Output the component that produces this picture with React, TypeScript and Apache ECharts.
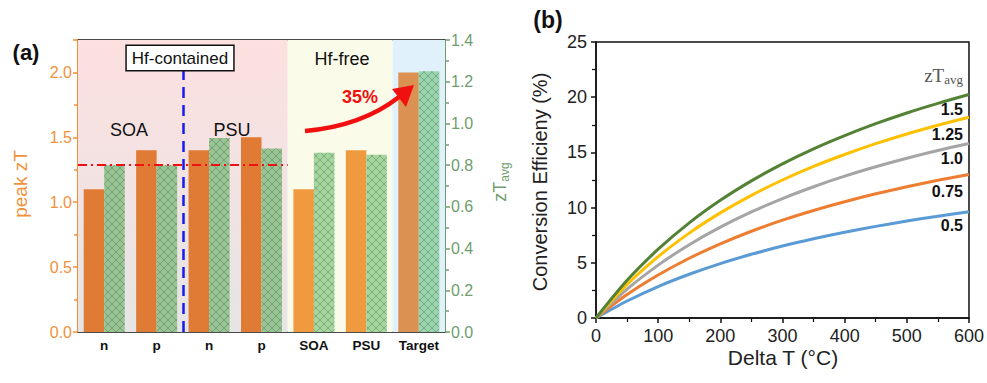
import React, { useEffect, useRef } from 'react';
import * as echarts from 'echarts';

// ---------- Panel (a) data ----------
const categories = ['n', 'p', 'n', 'p', 'SOA', 'PSU', 'Target'];
const peakZT = [1.1, 1.4, 1.4, 1.5, 1.1, 1.4, 2.0];
const avgZT = [0.8, 0.8, 0.93, 0.88, 0.86, 0.85, 1.25];
const peakColors = ['#e07b36', '#e07b36', '#e07b36', '#e07b36', '#ef9a3e', '#ef9a3e', '#da9152'];
const avgColors = ['#97c593', '#97c593', '#97c593', '#97c593', '#a3d79e', '#a3d79e', '#99d6ae'];
const bandStarts = [0, 4, 6];
const bandEnds = [4, 6, 7];
const refLineValue = 1.29;
const dividerAt = 2;
const dividerTop = 2.02;

// ---------- Panel (b) data ----------
const deltaT = [0, 50, 100, 150, 200, 250, 300, 350, 400, 450, 500, 550, 600];
const zTLevels = ['0.5', '0.75', '1.0', '1.25', '1.5'];
const eff05 = [0, 1.54, 2.85, 3.96, 4.93, 5.77, 6.52, 7.18, 7.77, 8.3, 8.78, 9.22, 9.62];
const eff075 = [0, 2.12, 3.89, 5.41, 6.72, 7.86, 8.86, 9.74, 10.53, 11.25, 11.89, 12.47, 13.0];
const eff10 = [0, 2.61, 4.79, 6.64, 8.23, 9.61, 10.82, 11.89, 12.85, 13.7, 14.47, 15.17, 15.8];
const eff125 = [0, 3.03, 5.56, 7.69, 9.52, 11.11, 12.5, 13.73, 14.81, 15.79, 16.67, 17.46, 18.18];
const eff15 = [0, 3.41, 6.23, 8.62, 10.66, 12.42, 13.96, 15.32, 16.52, 17.6, 18.57, 19.44, 20.24];
const effSeries = [eff05, eff075, eff10, eff125, eff15];
const lineColors = ['#5b9bd5', '#ed7d31', '#a5a5a5', '#ffc000', '#548235'];
const labelYs = [225, 191, 158, 134, 109];

const FONT = 'Liberation Sans, Arial, sans-serif';
const ORANGE = '#f0913a';
const GREEN = '#6e9d6e';
const BAR_W = 20.5;
const HATCH_STEP = 8;

// diagonal cross-hatch segments clipped to a rectangle
function hatchSegments(x0: number, x1: number, y0: number, y1: number, step: number) {
  const segs: number[][] = [];
  const cMin = Math.floor((y0 - x1) / step) * step;
  for (let c = cMin; c <= y1 - x0; c += step) {
    const xa = Math.max(x0, y0 - c);
    const xb = Math.min(x1, y1 - c);
    if (xb > xa) segs.push([xa, xa + c, xb, xb + c]);
  }
  const dMin = Math.floor((x0 + y0) / step) * step;
  for (let c = dMin; c <= x1 + y1; c += step) {
    const xa = Math.max(x0, c - y1);
    const xb = Math.min(x1, c - y0);
    if (xb > xa) segs.push([xa, c - xa, xb, c - xb]);
  }
  return segs;
}

export default function App() {
  const ref = useRef<HTMLDivElement>(null);
  useEffect(() => {
    if (!ref.current) return;
    const chart = echarts.init(ref.current, null, { renderer: 'svg' });

    const bandColors: any[] = [
      {
        type: 'linear', x: 0, y: 0, x2: 0, y2: 1,
        colorStops: [
          { offset: 0, color: '#fde0e0' },
          { offset: 1, color: '#e6e5e5' },
        ],
      },
      '#fafbe8',
      '#e1f1fb',
    ];

    const option: any = {
      animation: false,
      textStyle: { fontFamily: FONT },
      grid: [
        { left: 78, top: 40, width: 367, height: 292 },
        { left: 596, top: 42, width: 373, height: 276, show: true, borderColor: '#111', borderWidth: 1.5, backgroundColor: 'transparent' },
      ],
      xAxis: [
        {
          type: 'category', gridIndex: 0, data: categories, position: 'bottom',
          axisLine: { lineStyle: { color: '#111', width: 1.5 } },
          axisTick: { alignWithLabel: true, interval: 0, length: 4, lineStyle: { color: '#111', width: 1.5 } },
          axisLabel: { interval: 0, color: '#111', fontWeight: 'bold', fontSize: 13.5, margin: 6, fontFamily: FONT },
        },
        {
          type: 'value', gridIndex: 0, min: 0, max: 7, position: 'top',
          axisLine: { show: true, onZero: false, lineStyle: { color: '#111', width: 1.5 } },
          axisTick: { show: false }, axisLabel: { show: false }, splitLine: { show: false },
        },
        {
          type: 'value', gridIndex: 1, min: 0, max: 600, interval: 100,
          axisLine: { lineStyle: { color: '#111', width: 1.5 } },
          axisTick: { length: 5, lineStyle: { color: '#111', width: 1.5 } },
          minorTick: { show: true, splitNumber: 2, length: 4, lineStyle: { color: '#111', width: 1.2 } },
          axisLabel: { color: '#222', fontSize: 18, margin: 9, fontFamily: FONT },
          splitLine: { show: false },
        },
      ],
      yAxis: [
        {
          type: 'value', gridIndex: 0, min: 0, max: 2.25, interval: 0.5, position: 'left',
          axisLine: { show: true, lineStyle: { color: ORANGE, width: 2 } },
          axisTick: { show: true, length: 5, lineStyle: { color: ORANGE, width: 1.5 } },
          minorTick: { show: true, splitNumber: 2, length: 4, lineStyle: { color: ORANGE, width: 1.5 } },
          axisLabel: { color: ORANGE, fontSize: 16, margin: 6, showMaxLabel: false, formatter: (v: number) => v.toFixed(1), fontFamily: FONT },
          splitLine: { show: false },
        },
        {
          type: 'value', gridIndex: 0, min: 0, max: 1.4, interval: 0.2, position: 'right',
          axisLine: { show: true, lineStyle: { color: GREEN, width: 2 } },
          axisTick: { show: true, length: 5, lineStyle: { color: GREEN, width: 1.5 } },
          minorTick: { show: true, splitNumber: 2, length: 4, lineStyle: { color: GREEN, width: 1.5 } },
          axisLabel: { color: GREEN, fontSize: 16, margin: 6, formatter: (v: number) => v.toFixed(1), fontFamily: FONT },
          splitLine: { show: false },
        },
        {
          type: 'value', gridIndex: 1, min: 0, max: 25, interval: 5,
          axisLine: { lineStyle: { color: '#111', width: 1.5 } },
          axisTick: { length: 5, lineStyle: { color: '#111', width: 1.5 } },
          minorTick: { show: true, splitNumber: 2, length: 4, lineStyle: { color: '#111', width: 1.2 } },
          axisLabel: { color: '#222', fontSize: 18, margin: 9, fontFamily: FONT },
          splitLine: { show: false },
        },
      ],
      series: [
        {
          type: 'line', xAxisIndex: 1, yAxisIndex: 0, data: [], z: 0, silent: true,
          markArea: {
            silent: true,
            data: bandStarts.map((s, i) => [
              { xAxis: s, itemStyle: { color: bandColors[i] } },
              { xAxis: bandEnds[i] },
            ]),
          },
        },
        {
          type: 'bar', xAxisIndex: 0, yAxisIndex: 0, barWidth: BAR_W, barGap: '0%', z: 2,
          data: peakZT.map((v, i) => ({ value: v, itemStyle: { color: peakColors[i] } })),
        },
        {
          type: 'bar', xAxisIndex: 0, yAxisIndex: 1, barWidth: BAR_W, barGap: '0%', z: 2,
          data: avgZT.map((v, i) => ({ value: v, itemStyle: { color: avgColors[i] } })),
        },
        {
          type: 'custom', xAxisIndex: 0, yAxisIndex: 1, z: 3, silent: true,
          data: avgZT.map((v, i) => [i, v]),
          encode: { x: 0, y: 1 },
          renderItem: (params: any, api: any) => {
            const i = api.value(0);
            const v = api.value(1);
            const top = api.coord([i, v]);
            const base = api.coord([i, 0]);
            const segs = hatchSegments(top[0], top[0] + BAR_W, top[1], base[1], HATCH_STEP);
            return {
              type: 'group',
              children: segs.map((s) => ({
                type: 'line',
                shape: { x1: s[0], y1: s[1], x2: s[2], y2: s[3] },
                style: { stroke: 'rgba(70,90,72,0.45)', lineWidth: 0.8 },
              })),
            };
          },
        },
        {
          type: 'line', xAxisIndex: 1, yAxisIndex: 0, data: [], z: 6, silent: true,
          markLine: {
            silent: true, symbol: ['none', 'none'], label: { show: false },
            data: [
              [
                { coord: [bandStarts[0], refLineValue], lineStyle: { color: '#ee1111', width: 2, type: [9, 4, 2, 4] } },
                { coord: [bandEnds[0], refLineValue] },
              ],
              [
                { coord: [dividerAt, 0], lineStyle: { color: '#1a1aee', width: 2.5, type: [11, 7] } },
                { coord: [dividerAt, dividerTop] },
              ],
            ],
          },
        },
        ...effSeries.map((arr, i) => ({
          type: 'line', name: zTLevels[i], xAxisIndex: 2, yAxisIndex: 2,
          data: deltaT.map((x, j) => [x, arr[j]]),
          smooth: 0.3, showSymbol: false, symbol: 'none',
          lineStyle: { color: lineColors[i], width: 3 },
          itemStyle: { color: lineColors[i] },
          z: 3,
        })),
      ],
      graphic: [
        { type: 'text', x: 26, y: 52, style: { text: '(a)', font: `bold 22px ${FONT}`, fill: '#111', align: 'center', verticalAlign: 'middle' } },
        {
          type: 'text', x: 180, y: 58, z: 10,
          style: {
            text: 'Hf-contained', font: `17px ${FONT}`, fill: '#111', align: 'center', verticalAlign: 'middle',
            backgroundColor: '#fff', borderColor: '#111', borderWidth: 1.5, padding: [4, 5, 3, 5],
          },
        },
        { type: 'text', x: 342, y: 59, z: 10, style: { text: 'Hf-free', font: `18px ${FONT}`, fill: '#111', align: 'center', verticalAlign: 'middle' } },
        { type: 'text', x: 129, y: 130, z: 10, style: { text: 'SOA', font: `18px ${FONT}`, fill: '#111', align: 'center', verticalAlign: 'middle' } },
        { type: 'text', x: 232, y: 130, z: 10, style: { text: 'PSU', font: `18px ${FONT}`, fill: '#111', align: 'center', verticalAlign: 'middle' } },
        { type: 'text', x: 360, y: 97, z: 10, style: { text: '35%', font: `bold 18px ${FONT}`, fill: '#f01010', align: 'center', verticalAlign: 'middle' } },
        {
          type: 'bezierCurve', z: 10,
          shape: { x1: 305, y1: 131, x2: 399, y2: 97, cpx1: 362, cpy1: 126 },
          style: { stroke: '#f01010', lineWidth: 4.5, fill: null },
        },
        { type: 'polygon', z: 10, shape: { points: [[414, 85], [392, 89], [406, 107]] }, style: { fill: '#f01010' } },
        { type: 'text', x: 20, y: 184, rotation: Math.PI / 2, style: { text: 'peak zT', font: `19px ${FONT}`, fill: ORANGE, align: 'center', verticalAlign: 'middle' } },
        {
          type: 'text', x: 500, y: 182, rotation: Math.PI / 2,
          style: {
            text: '{a|zT}{b|avg}', align: 'center', verticalAlign: 'middle',
            rich: {
              a: { fontSize: 18, fill: GREEN, fontFamily: FONT },
              b: { fontSize: 12, fill: GREEN, fontFamily: FONT, padding: [9, 0, 0, 0] },
            },
          },
        },
        { type: 'text', x: 548, y: 20, style: { text: '(b)', font: `bold 23px ${FONT}`, fill: '#111', align: 'center', verticalAlign: 'middle' } },
        { type: 'text', x: 540, y: 182, rotation: Math.PI / 2, style: { text: 'Conversion Efficieny (%)', font: `20px ${FONT}`, fill: '#222', align: 'center', verticalAlign: 'middle' } },
        { type: 'text', x: 783, y: 357, style: { text: 'Delta T (°C)', font: `21px ${FONT}`, fill: '#222', align: 'center', verticalAlign: 'middle' } },
        {
          type: 'text', x: 963, y: 75,
          style: {
            text: '{a|zT}{b|avg}', align: 'right', verticalAlign: 'middle',
            rich: {
              a: { fontSize: 19, fill: '#555', fontFamily: 'Liberation Serif, serif' },
              b: { fontSize: 13, fill: '#555', fontFamily: 'Liberation Serif, serif', padding: [9, 0, 0, 0] },
            },
          },
        },
        ...zTLevels.map((t, i) => ({
          type: 'text', x: 963, y: labelYs[i],
          style: { text: t, font: `bold 16px ${FONT}`, fill: '#111', align: 'right', verticalAlign: 'middle' },
        })),
      ],
    };
    chart.setOption(option);
    return () => chart.dispose();
  }, []);
  return (
    <div
      ref={ref}
      style={{ position: 'fixed', left: 0, top: 0, width: 987, height: 383, background: '#fff' }}
    />
  );
}
